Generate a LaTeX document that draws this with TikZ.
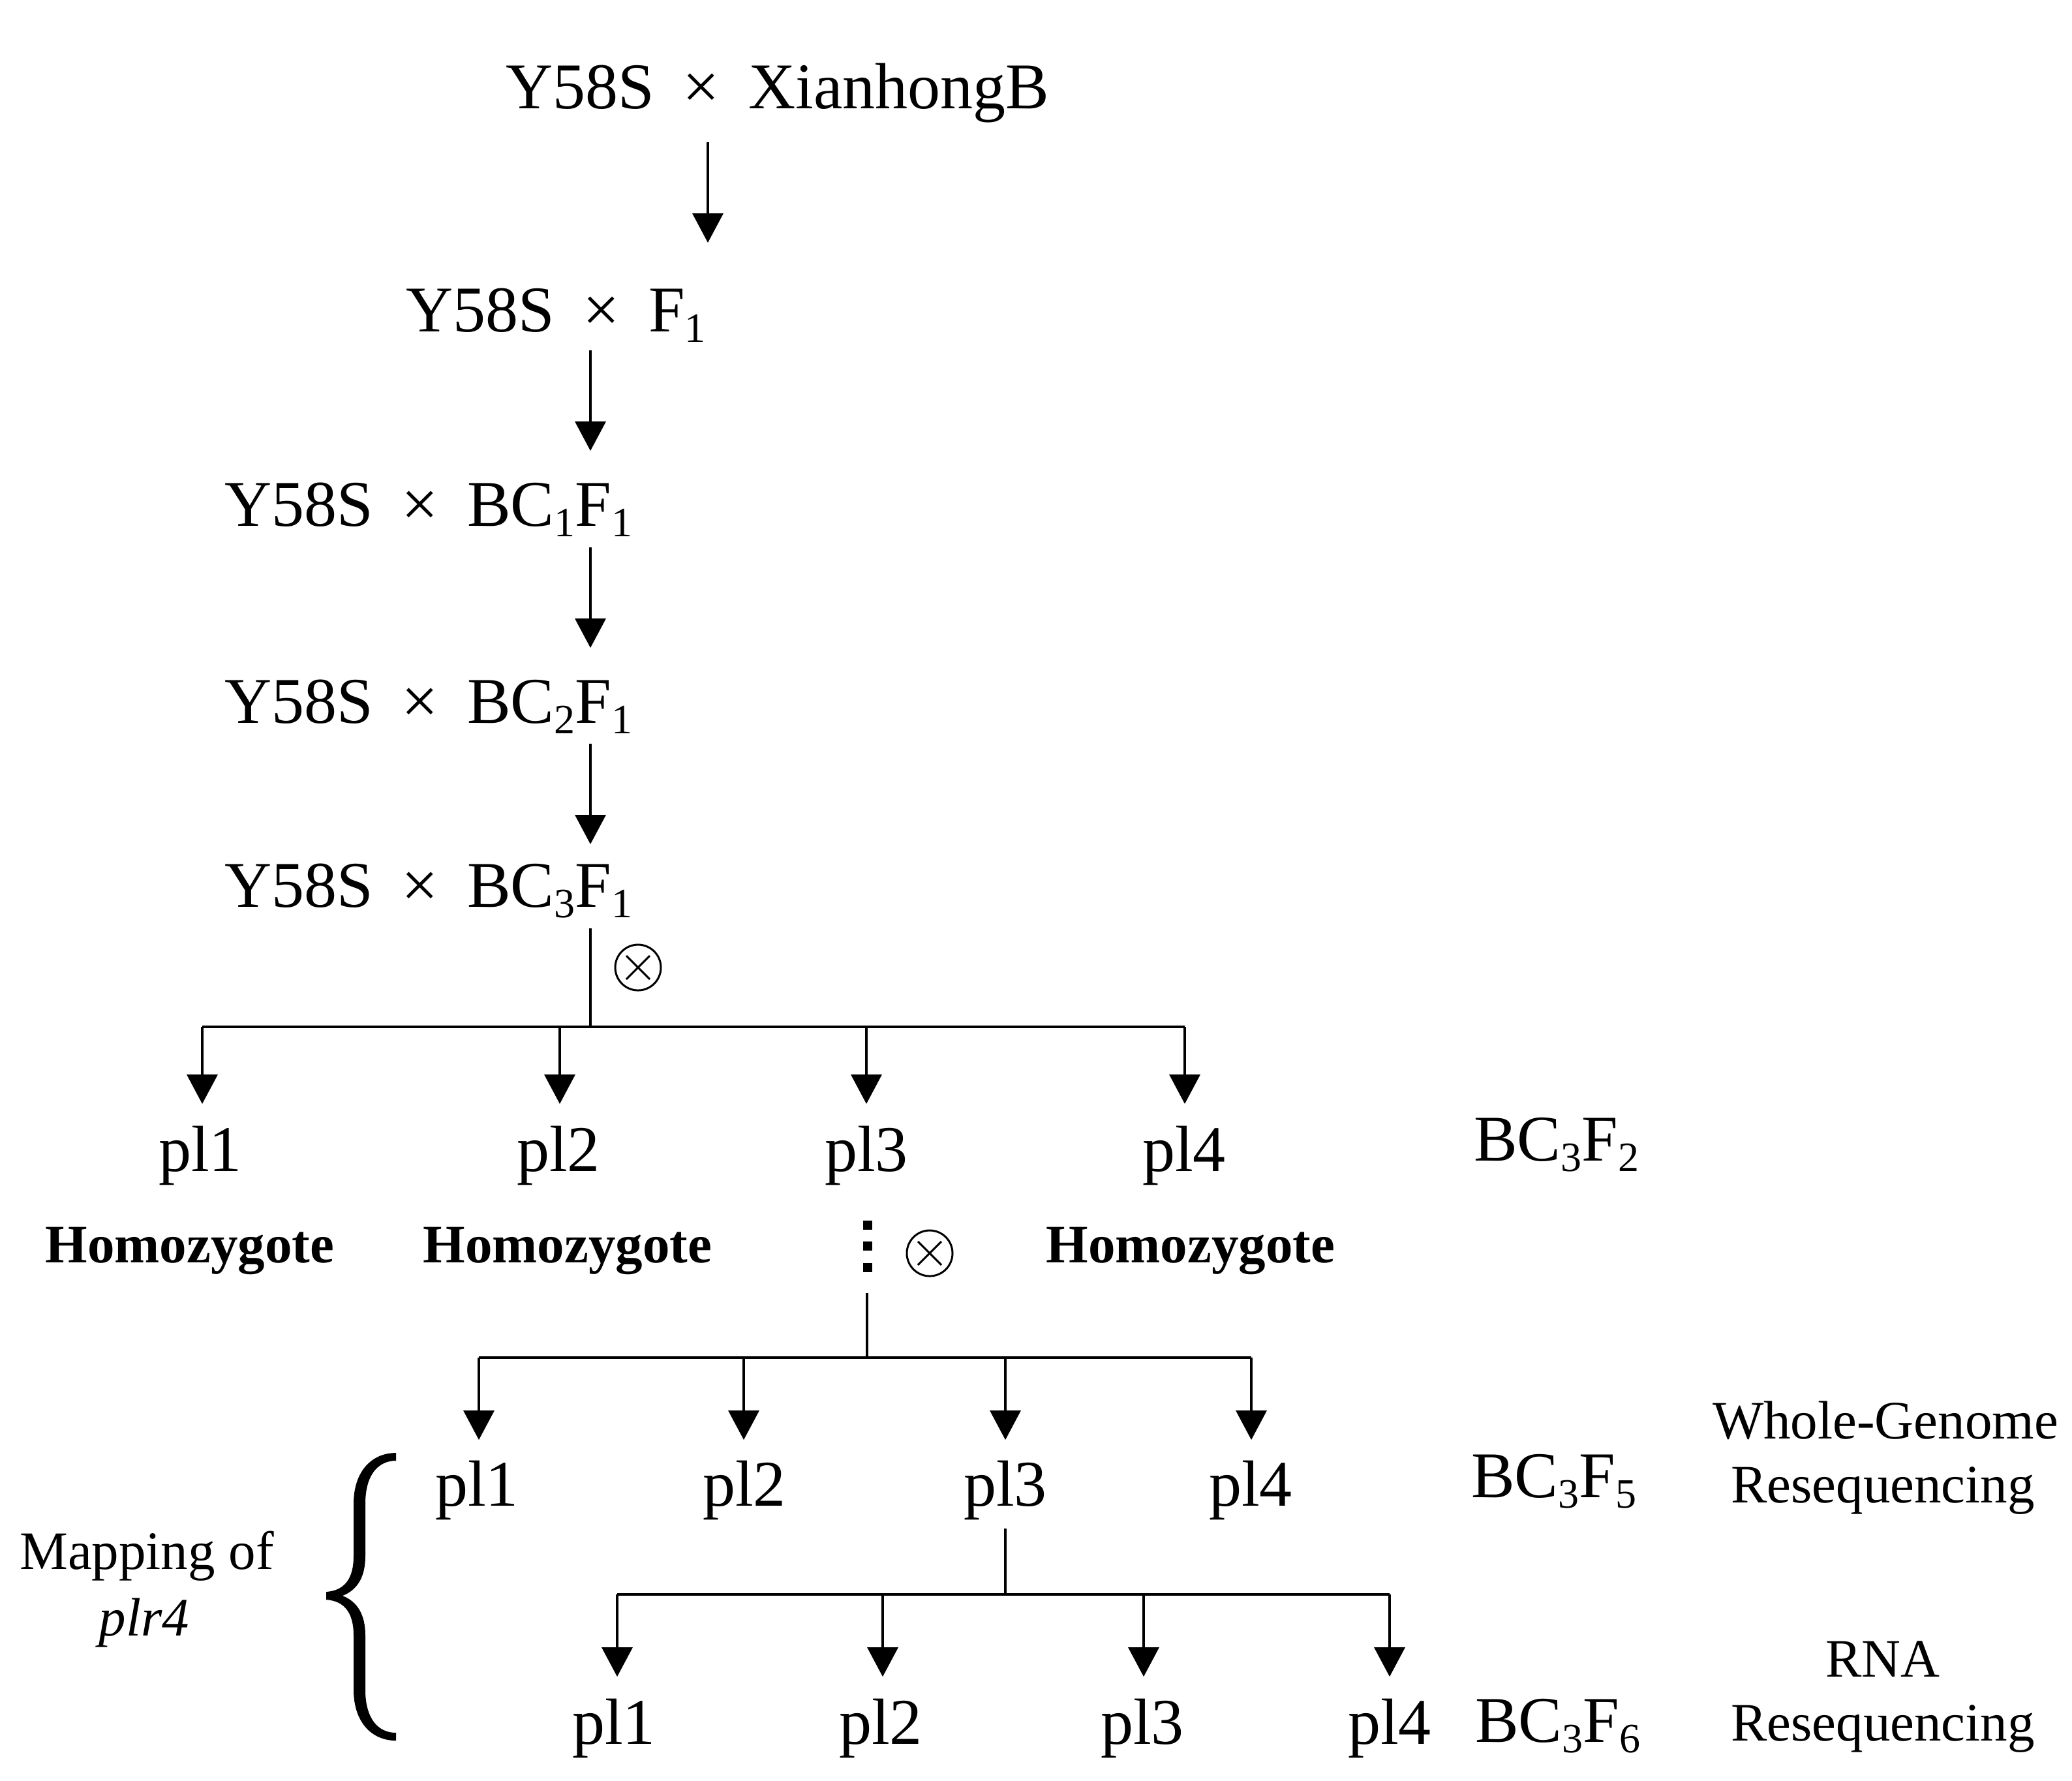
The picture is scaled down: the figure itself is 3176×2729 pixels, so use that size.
\documentclass[tikz,border=0pt]{standalone}
\usepackage{fontspec}
\setmainfont{Liberation Serif}
\usetikzlibrary{arrows.meta}
\newcommand\sbx[1]{\raisebox{-1.6pt}{\fontsize{6.4}{7}\selectfont #1}}
\newcommand\tms{\hspace{4.4pt}×\hspace{4.4pt}}
\begin{document}
\begin{tikzpicture}[x=0.1pt,y=-0.1pt,
  big/.style={inner sep=0,font=\fontsize{10}{12}\selectfont},
  small/.style={inner sep=0,font=\fontsize{8.3}{10}\selectfont},
  hom/.style={inner sep=0,font=\fontsize{8.3}{10}\selectfont\bfseries},
  conn/.style={line width=0.35pt},
  arr/.style={line width=0.35pt,-{Triangle[length=4.5pt,width=4.7pt]}},
  selfing/.style={circle,draw,line width=0.3pt,minimum size=7pt,inner sep=0,
    path picture={\draw[line width=0.3pt]
      ([shift={(-1.8pt,-1.8pt)}]path picture bounding box.center) -- ([shift={(1.8pt,1.8pt)}]path picture bounding box.center)
      ([shift={(-1.8pt,1.8pt)}]path picture bounding box.center) -- ([shift={(1.8pt,-1.8pt)}]path picture bounding box.center);}}]
\useasboundingbox (0,0) rectangle (3176,2729);

% crossing rows
\node[big,anchor=base west] (r1) at (773,166) {Y58S\tms XianhongB};
\node[big,anchor=base west] (r2) at (620,508) {Y58S\tms F\sbx{1}};
\node[big,anchor=base west] (r3) at (342,806) {Y58S\tms BC\sbx{1}F\sbx{1}};
\node[big,anchor=base west] (r4) at (342,1108) {Y58S\tms BC\sbx{2}F\sbx{1}};
\node[big,anchor=base west] (r5) at (342,1390) {Y58S\tms BC\sbx{3}F\sbx{1}};

\coordinate (c1a) at (1085,218);  \coordinate (c1b) at (1085,372);
\coordinate (c2a) at (905,537);   \coordinate (c2b) at (905,691);
\coordinate (c3a) at (905,839);   \coordinate (c3b) at (905,993);
\coordinate (c4a) at (905,1140);  \coordinate (c4b) at (905,1294);
\draw[arr] (c1a) -- (c1b);
\draw[arr] (c2a) -- (c2b);
\draw[arr] (c3a) -- (c3b);
\draw[arr] (c4a) -- (c4b);

% first selfing split
\coordinate (c5a) at (905,1423); \coordinate (j1) at (905,1574);
\coordinate (L1) at (310,1574);  \coordinate (R1) at (1816,1574);
\draw[conn] (c5a) -- (j1);
\draw[conn] (L1) -- (R1);
\node[selfing] (s1) at (978,1483) {};
\foreach \i/\x in {1/310,2/858,3/1328,4/1816}{
  \coordinate (ba\i) at (\x,1574); \coordinate (bt\i) at (\x,1692);
  \draw[arr] (ba\i) -- (bt\i);}
\node[big,anchor=base] (p11) at (307,1795) {pl1};
\node[big,anchor=base] (p12) at (856,1795) {pl2};
\node[big,anchor=base] (p13) at (1328,1795) {pl3};
\node[big,anchor=base] (p14) at (1815,1795) {pl4};
\node[big,anchor=base west] (g2) at (2257,1779) {BC\sbx{3}F\sbx{2}};
\node[hom,anchor=base] (h1) at (291,1935) {Homozygote};
\node[hom,anchor=base] (h2) at (870,1935) {Homozygote};
\node[hom,anchor=base] (h4) at (1825,1935) {Homozygote};
\fill (1323,1871) rectangle (1337,1885);
\fill (1323,1903) rectangle (1337,1917);
\fill (1323,1936) rectangle (1337,1950);
\node[selfing] (s2) at (1425,1921) {};

% second split
\coordinate (c6a) at (1329,1982); \coordinate (j2) at (1329,2081);
\coordinate (L2) at (734,2081);   \coordinate (R2) at (1918,2081);
\draw[conn] (c6a) -- (j2);
\draw[conn] (L2) -- (R2);
\foreach \i/\x in {1/734,2/1140,3/1541,4/1918}{
  \coordinate (da\i) at (\x,2081); \coordinate (dt\i) at (\x,2207);
  \draw[arr] (da\i) -- (dt\i);}
\node[big,anchor=base] (p21) at (731,2308) {pl1};
\node[big,anchor=base] (p22) at (1141,2308) {pl2};
\node[big,anchor=base] (p23) at (1541,2308) {pl3};
\node[big,anchor=base] (p24) at (1917,2308) {pl4};
\node[big,anchor=base west] (g5) at (2253,2295) {BC\sbx{3}F\sbx{5}};
\node[small,anchor=base] (wg1) at (2890,2205) {Whole-Genome};
\node[small,anchor=base] (wg2) at (2886,2303) {Resequencing};

% third split
\coordinate (c7a) at (1541,2343); \coordinate (j3) at (1541,2444);
\coordinate (L3) at (946,2444);   \coordinate (R3) at (2130,2444);
\draw[conn] (c7a) -- (j3);
\draw[conn] (L3) -- (R3);
\foreach \i/\x in {1/946,2/1353,3/1753,4/2130}{
  \coordinate (ea\i) at (\x,2444); \coordinate (et\i) at (\x,2570);
  \draw[arr] (ea\i) -- (et\i);}
\node[big,anchor=base] (p31) at (941,2673) {pl1};
\node[big,anchor=base] (p32) at (1350,2673) {pl2};
\node[big,anchor=base] (p33) at (1751,2673) {pl3};
\node[big,anchor=base] (p34) at (2130,2673) {pl4};
\node[big,anchor=base west] (g6) at (2259,2670) {BC\sbx{3}F\sbx{6}};
\node[small,anchor=base] (rn1) at (2886,2570) {RNA};
\node[small,anchor=base] (rn2) at (2886,2668) {Resequencing};

% mapping brace
\node[small,anchor=base] (m1) at (225,2405) {Mapping of};
\node[small,anchor=base] (m2) at (221,2507) {\itshape plr4};
\fill (607,2227) .. controls (570,2227) and (542,2255) .. (542,2305)
  -- (542,2385) .. controls (542,2420) and (528,2438) .. (500,2440)
  -- (500,2452) .. controls (528,2454) and (542,2472) .. (542,2507)
  -- (542,2590) .. controls (542,2640) and (570,2668) .. (607,2668)
  -- (607,2656) .. controls (580,2656) and (560,2635) .. (560,2590)
  -- (560,2507) .. controls (560,2475) and (548,2455) .. (525,2446)
  .. controls (548,2437) and (560,2417) .. (560,2385)
  -- (560,2305) .. controls (560,2260) and (580,2239) .. (607,2239) -- cycle;
\end{tikzpicture}
\end{document}
